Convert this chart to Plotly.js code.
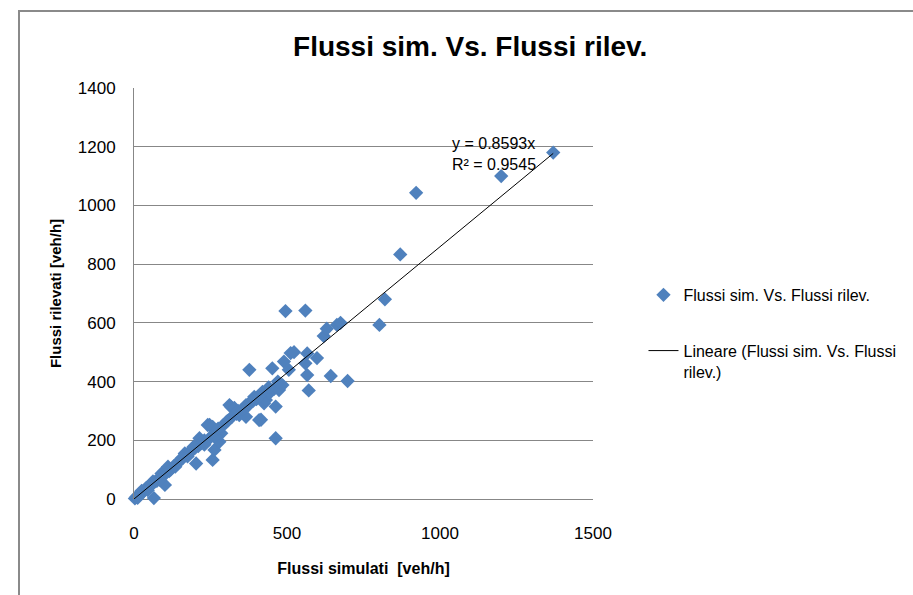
<!DOCTYPE html>
<html>
<head>
<meta charset="utf-8">
<script src="https://cdn.plot.ly/plotly-3.0.1.min.js"></script>
<style>
  html, body { margin: 0; padding: 0; background: #fff; }
  #chart { width: 913px; height: 595px; }
  #frame { position: absolute; left: 18px; top: 10px; width: 920px; height: 600px;
           border-left: 2px solid #8a8a8a; border-top: 2px solid #8a8a8a; pointer-events: none; }
</style>
</head>
<body>
<div id="chart"></div>
<div id="frame"></div>
<script>
// Flussi simulati (x) vs Flussi rilevati (y), veh/h
const simX = [3, 8, 15, 20, 28, 35, 40, 48, 55, 60, 65, 70, 75, 82, 90, 95, 100, 108, 101, 57,
  90, 111, 120, 130, 140, 150, 160, 166, 171, 180, 190, 203, 200, 210, 214, 220, 230, 241, 247, 257,
  257, 263, 260, 270, 279, 285, 290, 300, 312, 317, 328, 320, 335, 344, 350, 366, 366, 377, 380, 393,
  400, 409, 415, 420, 425, 431, 442, 452, 458, 463, 463, 474, 485, 490, 495, 506, 512, 523, 560, 560,
  566, 566, 571, 598, 620, 630, 663, 675, 643, 698, 802, 820, 870, 922, 1200, 1370,
  230, 245, 265, 275, 305, 340, 355, 370, 390, 410, 440, 470,
  12, 25, 45, 62, 85, 115, 135, 155, 175, 195];
const rilY = [2, 8, 12, 15, 22, 30, 38, 40, 48, 52, 3, 60, 62, 70, 75, 85, 90, 92, 48, 53,
  87, 110, 100, 112, 120, 130, 140, 155, 150, 160, 165, 121, 175, 180, 207, 190, 200, 252, 252, 246,
  133, 167, 220, 230, 195, 224, 250, 260, 320, 314, 310, 280, 290, 286, 300, 280, 320, 440, 330, 348,
  340, 269, 270, 365, 326, 337, 360, 445, 375, 315, 207, 371, 388, 468, 640, 440, 497, 500, 642, 462,
  496, 422, 370, 480, 555, 580, 593, 600, 419, 402, 593, 680, 833, 1043, 1100, 1180,
  185, 205, 215, 240, 265, 300, 305, 315, 335, 350, 380, 400,
  4, 28, 30, 60, 65, 95, 110, 138, 145, 178];
const slope = 0.8593;
const r2 = 0.9545;
const trendX = [0, Math.max(...simX)];
const trendY = trendX.map(v => slope * v);
const xTicks = [0, 500, 1000, 1500];
const yTicks = [0, 200, 400, 600, 800, 1000, 1200, 1400];
const seriesName = 'Flussi sim. Vs. Flussi rilev.';
const trendName = 'Lineare (Flussi sim. Vs. Flussi<br>rilev.)';
const chartTitle = 'Flussi sim. Vs. Flussi rilev.';
const xTitle = 'Flussi simulati  [veh/h]';
const yTitle = 'Flussi rilevati [veh/h]';

const font = 'Liberation Sans, Arial, sans-serif';

const traces = [
  {
    x: simX, y: rilY, type: 'scatter', mode: 'markers', name: seriesName,
    legendgroup: 'a', cliponaxis: false,
    marker: { symbol: 'diamond', size: 11, color: '#4F81BD' }
  },
  {
    x: trendX, y: trendY, type: 'scatter', mode: 'lines', name: trendName,
    legendgroup: 'b', cliponaxis: false,
    line: { color: '#000000', width: 1 }
  }
];

const layout = {
  width: 913, height: 595,
  margin: { l: 134, r: 316, t: 88, b: 96 },
  paper_bgcolor: '#ffffff', plot_bgcolor: '#ffffff',
  font: { family: font, color: '#000000' },
  title: { text: chartTitle, x: 0.515, xref: 'container', xanchor: 'center',
           y: 0.923, yref: 'container', yanchor: 'middle',
           font: { family: font, size: 28, color: '#000000', weight: 'bold' } },
  xaxis: {
    range: [0, 1500], tickvals: xTicks, ticktext: xTicks.map(String),
    showgrid: false, zeroline: false, showline: false, ticks: '',
    ticklabelstandoff: 22, tickfont: { size: 17, family: font, color: '#000' },
    title: { text: xTitle, standoff: 20, font: { size: 16, family: font, weight: 'bold', color: '#000' } },
    fixedrange: true
  },
  yaxis: {
    range: [0, 1400], tickvals: yTicks, ticktext: yTicks.map(String),
    showgrid: true, gridcolor: '#878787', gridwidth: 1,
    zeroline: true, zerolinecolor: '#878787', zerolinewidth: 1,
    showline: true, linecolor: '#878787', linewidth: 1, ticks: '',
    ticklabelstandoff: 14, tickfont: { size: 17, family: font, color: '#000' },
    title: { text: yTitle, standoff: 12, font: { size: 15, family: font, weight: 'bold', color: '#000' } },
    fixedrange: true
  },
  showlegend: true,
  legend: {
    x: 1.11, xanchor: 'left', y: 0.538, yanchor: 'top', valign: 'top',
    font: { size: 16, family: font, color: '#000' },
    traceorder: 'grouped', tracegroupgap: 32, bgcolor: 'rgba(0,0,0,0)'
  },
  annotations: [{
    x: 1032, y: 1175, xref: 'x', yref: 'y', xanchor: 'left', yanchor: 'middle',
    align: 'left', showarrow: false,
    text: 'y = ' + slope + 'x<br>R² = ' + r2,
    font: { size: 16, family: font, color: '#000' }
  }]
};

Plotly.newPlot('chart', traces, layout, { displayModeBar: false, staticPlot: true });
</script>
</body>
</html>
